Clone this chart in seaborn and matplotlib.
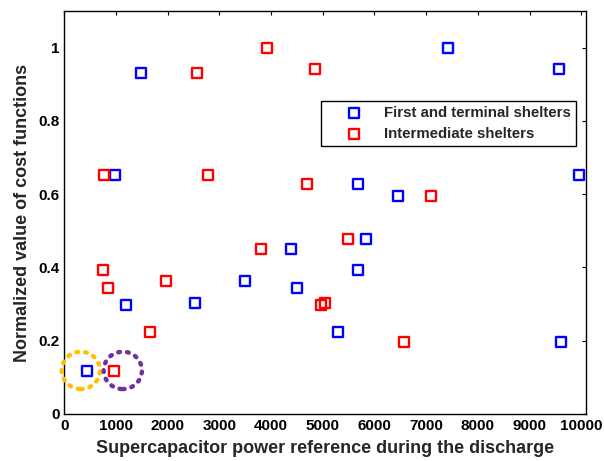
import matplotlib
matplotlib.use("Agg")
import matplotlib.pyplot as plt
import seaborn as sns
import pandas as pd
from matplotlib.patches import Ellipse

# Data
blue_x = [445, 974, 1187, 1477, 2533, 3500, 4377, 4493, 5286, 5685, 5685, 5839, 6452, 7425, 9571, 9604, 9952]
blue_y = [0.118, 0.653, 0.298, 0.930, 0.304, 0.362, 0.450, 0.344, 0.224, 0.392, 0.627, 0.479, 0.594, 1.000, 0.943, 0.197, 0.653]
red_x = [961, 748, 768, 839, 1651, 1960, 2572, 2778, 3809, 3920, 4693, 4841, 4969, 5047, 5485, 6562, 7090]
red_y = [0.118, 0.392, 0.653, 0.344, 0.224, 0.362, 0.930, 0.653, 0.450, 1.000, 0.627, 0.943, 0.298, 0.304, 0.479, 0.197, 0.594]
series_names = ["First and terminal shelters", "Intermediate shelters"]
series_colors = ["#0000FF", "#FF0000"]
x_ticks = list(range(0, 10001, 1000))
y_ticks = [0, 0.2, 0.4, 0.6, 0.8, 1.0]
y_tick_labels = ["0", "0.2", "0.4", "0.6", "0.8", "1"]
x_label = "Supercapacitor power reference during the discharge"
y_label = "Normalized value of cost functions"
# highlight circles: (center x, center y, color)
circles_cx = [320, 1131]
circles_cy = [0.119, 0.119]
circles_col = ["#FFC000", "#7030A0"]

sns.set_style("white")
plt.rcParams["font.family"] = ["Liberation Sans", "DejaVu Sans"]
plt.rcParams["font.weight"] = "bold"

fig = plt.figure(figsize=(6.04, 4.61), dpi=100)
ax = fig.add_axes([0.1065, 0.102, 0.8635, 0.874])

df_b = pd.DataFrame({"x": blue_x, "y": blue_y})
df_r = pd.DataFrame({"x": red_x, "y": red_y})
for df, name, col in [(df_b, series_names[0], series_colors[0]), (df_r, series_names[1], series_colors[1])]:
    sns.scatterplot(data=df, x="x", y="y", ax=ax, marker="s", s=52, color=col,
                    label=name, linewidth=1.7, legend=False)
for coll, col in zip(ax.collections, series_colors):
    coll.set_facecolor("none")
    coll.set_edgecolor(col)
    coll.set_linewidth(1.7)

for cx, cy, col in zip(circles_cx, circles_cy, circles_col):
    e = Ellipse((cx, cy), width=2 * 370, height=2 * 0.051, fill=False, edgecolor=col,
                linewidth=3.2, linestyle=(0, (0.4, 1.6)), clip_on=False, zorder=5)
    e.set_capstyle("round")
    ax.add_patch(e)

ax.set_xlim(0, 10090)
ax.set_ylim(0, 1.1)
ax.set_xticks(x_ticks)
ax.set_xticklabels([str(t) for t in x_ticks])
ax.set_yticks(y_ticks)
ax.set_yticklabels(y_tick_labels)
ax.tick_params(direction="in", length=3, width=0.8, top=True, right=True,
               labelsize=11, colors="black", pad=3.5)
for lab in ax.get_xticklabels() + ax.get_yticklabels():
    lab.set_fontweight("bold")
for sp in ax.spines.values():
    sp.set_color("black")
    sp.set_linewidth(1.0)

ax.set_xlabel(x_label, fontsize=13, fontweight="bold", labelpad=5)
ax.set_ylabel(y_label, fontsize=13, fontweight="bold", labelpad=5)

handles = ax.collections[:2]
leg = ax.legend(handles, series_names, loc="upper left",
                bbox_to_anchor=(0.493, 0.777, 0.488, 0.0), mode="expand",
                frameon=True, fancybox=False, framealpha=1, edgecolor="black",
                prop={"weight": "bold", "size": 10.8}, handlelength=3.6,
                handletextpad=0.2, borderpad=0.35, labelspacing=0.45,
                borderaxespad=0)
leg.get_frame().set_linewidth(1.0)

fig.savefig("out.png", dpi=100)
